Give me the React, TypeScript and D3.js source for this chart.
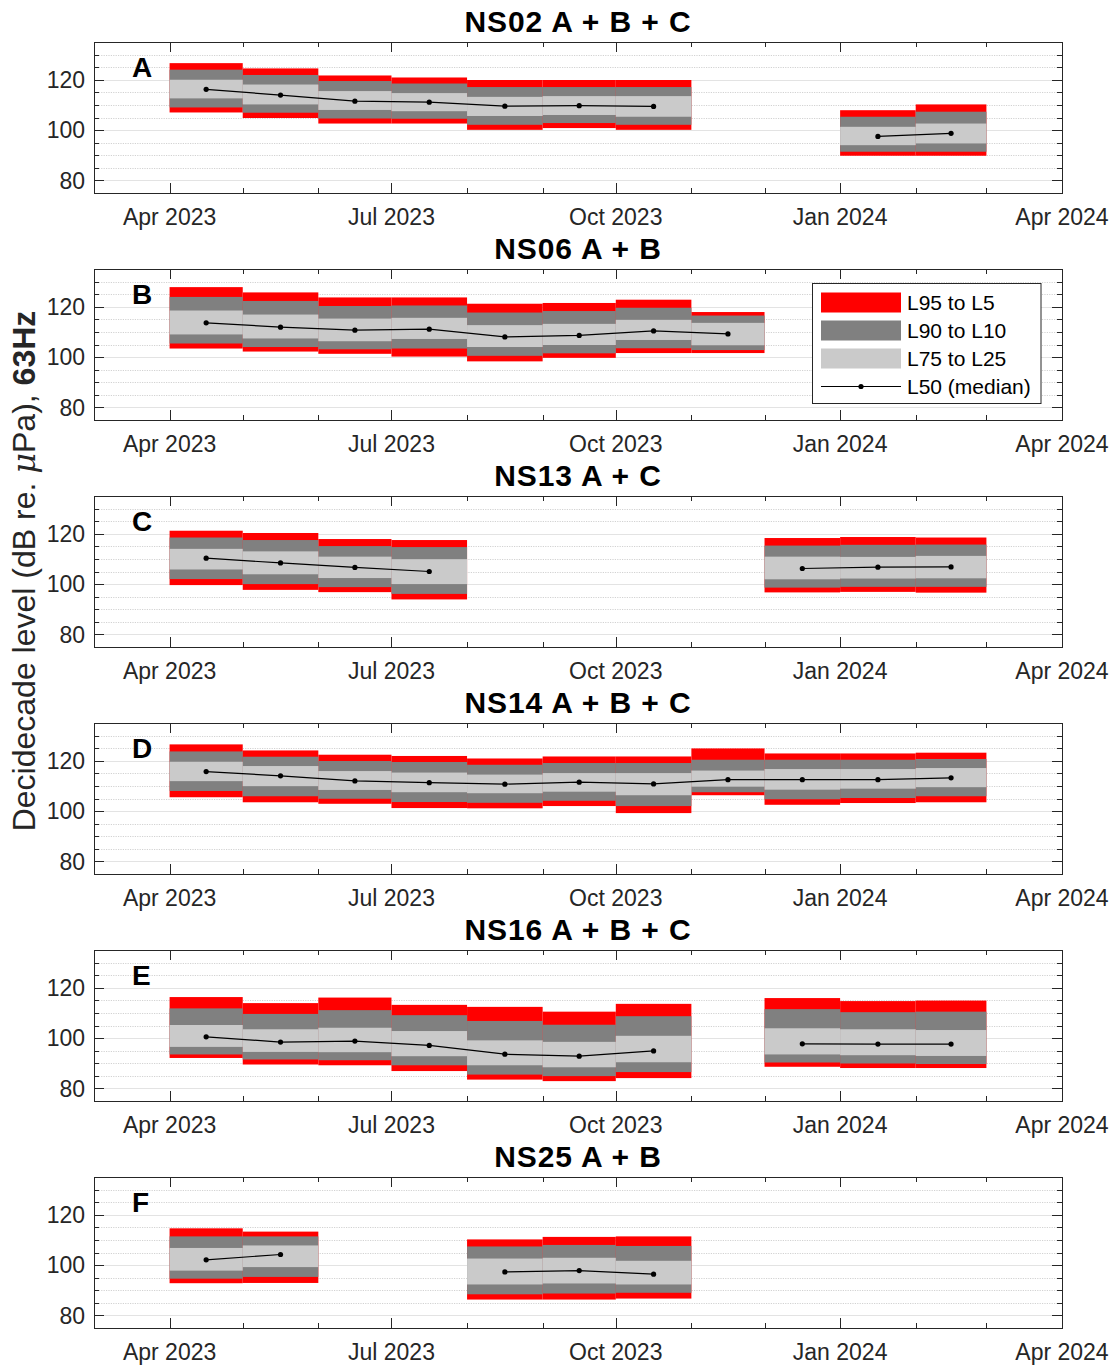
import React from "react";
import * as d3 from "d3";

// ---------- data ----------
const panelTitles = ["NS02 A + B + C", "NS06 A + B", "NS13 A + C", "NS14 A + B + C", "NS16 A + B + C", "NS25 A + B"];
const panelLetters = ["A", "B", "C", "D", "E", "F"];

const ns02Months = ["2023-04", "2023-05", "2023-06", "2023-07", "2023-08", "2023-09", "2023-10", "2024-01", "2024-02"];
const ns02L5 = [126.6, 124.5, 121.7, 120.9, 119.9, 119.9, 119.9, 107.9, 110.2];
const ns02L10 = [124.0, 121.9, 119.5, 118.5, 117.1, 117.1, 117.1, 105.3, 107.3];
const ns02L25 = [120.0, 118.1, 115.5, 114.7, 113.2, 113.5, 113.5, 101.3, 102.6];
const ns02L50 = [116.2, 113.9, 111.5, 111.1, 109.5, 109.7, 109.4, 97.5, 98.7];
const ns02L75 = [112.6, 110.2, 108.0, 107.5, 105.6, 106.0, 105.3, 94.0, 94.7];
const ns02L90 = [109.0, 106.9, 104.6, 104.5, 102.1, 102.8, 102.1, 91.4, 91.4];
const ns02L95 = [107.0, 104.8, 102.6, 102.6, 100.1, 100.8, 100.1, 89.8, 89.8];

const ns06Months = ["2023-04", "2023-05", "2023-06", "2023-07", "2023-08", "2023-09", "2023-10", "2023-11"];
const ns06L5 = [127.8, 125.7, 123.7, 123.7, 121.2, 121.5, 122.8, 117.9];
const ns06L10 = [123.9, 122.3, 120.3, 120.5, 117.7, 118.3, 119.6, 116.5];
const ns06L25 = [118.5, 116.9, 115.3, 115.6, 112.7, 113.2, 114.8, 113.6];
const ns06L50 = [113.6, 111.9, 110.7, 111.1, 108.0, 108.6, 110.4, 109.2];
const ns06L75 = [109.0, 107.4, 106.3, 107.2, 104.0, 104.8, 106.8, 104.7];
const ns06L90 = [105.4, 104.0, 103.1, 103.4, 100.5, 101.5, 103.5, 102.8];
const ns06L95 = [103.4, 102.2, 101.3, 100.2, 98.3, 99.7, 101.6, 101.6];

const ns13Months = ["2023-04", "2023-05", "2023-06", "2023-07", "2023-12", "2024-01", "2024-02"];
const ns13L5 = [121.2, 120.3, 117.9, 117.5, 118.3, 118.7, 118.5];
const ns13L10 = [118.5, 117.5, 115.1, 114.7, 115.3, 115.6, 115.7];
const ns13L25 = [114.0, 113.0, 110.9, 109.9, 110.9, 110.8, 111.2];
const ns13L50 = [110.3, 108.4, 106.6, 105.0, 106.2, 106.7, 106.8];
const ns13L75 = [105.8, 103.9, 102.4, 100.0, 101.9, 102.2, 102.3];
const ns13L90 = [102.0, 100.0, 98.8, 96.1, 98.6, 98.9, 98.9];
const ns13L95 = [99.6, 97.7, 96.8, 93.9, 96.7, 96.9, 96.6];

const ns14Months = ["2023-04", "2023-05", "2023-06", "2023-07", "2023-08", "2023-09", "2023-10", "2023-11", "2023-12", "2024-01", "2024-02"];
const ns14L5 = [126.5, 124.1, 122.4, 121.9, 120.9, 121.7, 121.7, 124.9, 122.9, 122.9, 123.2];
const ns14L10 = [123.7, 121.6, 119.9, 119.5, 118.4, 119.1, 119.1, 120.4, 120.4, 120.4, 120.7];
const ns14L25 = [119.6, 117.9, 115.9, 115.3, 114.5, 115.1, 115.1, 116.1, 116.7, 116.7, 117.1];
const ns14L50 = [115.7, 114.0, 112.0, 111.3, 110.7, 111.5, 110.8, 112.5, 112.5, 112.5, 113.2];
const ns14L75 = [111.9, 109.9, 108.4, 107.5, 107.1, 107.7, 106.3, 109.7, 108.5, 108.9, 109.5];
const ns14L90 = [108.0, 105.9, 104.9, 103.6, 103.3, 104.1, 102.0, 107.5, 104.7, 105.2, 105.9];
const ns14L95 = [105.5, 103.5, 102.9, 101.2, 101.1, 102.0, 99.2, 106.3, 102.5, 103.2, 103.5];

const ns16Months = ["2023-04", "2023-05", "2023-06", "2023-07", "2023-08", "2023-09", "2023-10", "2023-12", "2024-01", "2024-02"];
const ns16L5 = [116.3, 113.9, 116.1, 113.2, 112.4, 110.5, 113.6, 115.9, 114.7, 114.9];
const ns16L10 = [111.8, 109.6, 111.1, 109.1, 106.8, 105.3, 108.7, 111.5, 110.3, 110.5];
const ns16L25 = [105.2, 103.5, 104.1, 102.8, 99.1, 98.5, 100.9, 103.9, 103.5, 103.2];
const ns16L50 = [100.5, 98.4, 98.8, 97.1, 93.6, 92.8, 94.9, 97.7, 97.6, 97.6];
const ns16L75 = [96.5, 94.5, 94.4, 92.8, 89.2, 88.4, 90.4, 93.5, 93.2, 92.9];
const ns16L90 = [93.5, 91.5, 91.2, 89.2, 85.5, 84.9, 86.5, 90.3, 89.9, 89.7];
const ns16L95 = [92.1, 89.5, 89.2, 86.9, 83.5, 82.9, 84.1, 88.6, 88.1, 88.1];

const ns25Months = ["2023-04", "2023-05", "2023-08", "2023-09", "2023-10"];
const ns25L5 = [114.6, 113.3, 110.2, 111.2, 111.4];
const ns25L10 = [111.4, 111.4, 107.4, 108.0, 107.6];
const ns25L25 = [106.8, 107.8, 102.6, 102.9, 101.7];
const ns25L50 = [102.1, 104.2, 97.3, 97.8, 96.4];
const ns25L75 = [97.8, 99.2, 92.3, 92.7, 92.3];
const ns25L90 = [94.6, 95.3, 88.4, 88.7, 89.0];
const ns25L95 = [92.8, 92.9, 86.3, 86.3, 86.7];

const yTicksMajor = [80, 100, 120];
const legendLabels = ["L95 to L5", "L90 to L10", "L75 to L25", "L50 (median)"];
const yLabelParts = ["Decidecade level (dB re. ", "\u03bc", "Pa), ", "63Hz"];

const panels = [
  { months: ns02Months, L5: ns02L5, L10: ns02L10, L25: ns02L25, L50: ns02L50, L75: ns02L75, L90: ns02L90, L95: ns02L95 },
  { months: ns06Months, L5: ns06L5, L10: ns06L10, L25: ns06L25, L50: ns06L50, L75: ns06L75, L90: ns06L90, L95: ns06L95 },
  { months: ns13Months, L5: ns13L5, L10: ns13L10, L25: ns13L25, L50: ns13L50, L75: ns13L75, L90: ns13L90, L95: ns13L95 },
  { months: ns14Months, L5: ns14L5, L10: ns14L10, L25: ns14L25, L50: ns14L50, L75: ns14L75, L90: ns14L90, L95: ns14L95 },
  { months: ns16Months, L5: ns16L5, L10: ns16L10, L25: ns16L25, L50: ns16L50, L75: ns16L75, L90: ns16L90, L95: ns16L95 },
  { months: ns25Months, L5: ns25L5, L10: ns25L10, L25: ns25L25, L50: ns25L50, L75: ns25L75, L90: ns25L90, L95: ns25L95 },
];

// ---------- layout ----------
const W = 1112;
const H = 1365;
const LEFT = 94;
const RIGHT = 1062;
const TOP0 = 42;
const PANEL_H = 151;
const STEP = 227;
const FONT = "'Liberation Sans', Arial, Helvetica, sans-serif";
const AX = "#262626";
const RED = "#ff0000";
const DARK = "#808080";
const LIGHT = "#cacaca";

const parseMonth = d3.utcParse("%Y-%m");
const fmt = d3.utcFormat("%b %Y");

function Panel({ idx }: { idx: number }) {
  const p = panels[idx];
  const top = TOP0 + idx * STEP;
  const bottom = top + PANEL_H;
  const x = d3
    .scaleUtc()
    .domain([new Date(Date.UTC(2023, 2, 1)), new Date(Date.UTC(2024, 3, 1))])
    .range([LEFT, RIGHT]);
  const y = d3.scaleLinear().domain([75, 135]).range([bottom, top]);

  const monthTicks = d3.utcMonth.range(new Date(Date.UTC(2023, 3, 1)), new Date(Date.UTC(2024, 3, 2)));
  const gridVals = d3.range(80, 135, 5);

  const bars = p.months.map((m, i) => {
    const s = parseMonth(m) as Date;
    const e = d3.utcMonth.offset(s, 1);
    const mid = new Date((s.getTime() + e.getTime()) / 2);
    return { s, e, mid, i };
  });

  // split into contiguous segments for median line
  const segments: { mid: Date; v: number }[][] = [];
  bars.forEach((b, k) => {
    const pt = { mid: b.mid, v: p.L50[b.i] };
    if (k > 0 && d3.utcMonth.count(bars[k - 1].s, b.s) === 1) {
      segments[segments.length - 1].push(pt);
    } else {
      segments.push([pt]);
    }
  });
  const line = d3
    .line<{ mid: Date; v: number }>()
    .x((d) => x(d.mid))
    .y((d) => y(d.v));

  const band = (lo: number[], hi: number[], color: string) =>
    bars.map((b) => (
      <rect
        key={color + b.i}
        x={x(b.s)}
        width={x(b.e) - x(b.s)}
        y={y(hi[b.i])}
        height={y(lo[b.i]) - y(hi[b.i])}
        fill={color}
      />
    ));

  return (
    <g>
      {/* grid */}
      {gridVals.map((v) => {
        const major = yTicksMajor.includes(v);
        return (
          <line
            key={"g" + v}
            x1={LEFT}
            x2={RIGHT}
            y1={Math.round(y(v)) + 0.5}
            y2={Math.round(y(v)) + 0.5}
            stroke={major ? "#e3e3e3" : "#d2d2d2"}
            strokeWidth={1}
            strokeDasharray={major ? undefined : "1.2 1.2"}
          />
        );
      })}
      {/* bands */}
      {band(p.L95, p.L5, RED)}
      {band(p.L90, p.L10, DARK)}
      {band(p.L75, p.L25, LIGHT)}
      {/* median */}
      {segments.map((seg, k) => (
        <path key={"l" + k} d={line(seg) || ""} fill="none" stroke="#000" strokeWidth={1.2} />
      ))}
      {segments.flat().map((d, k) => (
        <circle key={"c" + k} cx={x(d.mid)} cy={y(d.v)} r={2.6} fill="#000" />
      ))}
      {/* y ticks */}
      {gridVals.map((v) => {
        const len = yTicksMajor.includes(v) ? 10 : 5;
        const yy = Math.round(y(v)) + 0.5;
        return (
          <g key={"yt" + v}>
            <line x1={LEFT} x2={LEFT + len} y1={yy} y2={yy} stroke={AX} strokeWidth={1} />
            <line x1={RIGHT} x2={RIGHT - len} y1={yy} y2={yy} stroke={AX} strokeWidth={1} />
          </g>
        );
      })}
      {yTicksMajor.map((v) => (
        <text
          key={"yl" + v}
          x={LEFT - 9}
          y={y(v)}
          dy="0.36em"
          textAnchor="end"
          fontSize={23}
          fontFamily={FONT}
          fill={AX}
        >
          {v}
        </text>
      ))}
      {/* x ticks */}
      {monthTicks.map((t) => {
        const major = t.getUTCMonth() % 3 === 0;
        const len = major ? 10 : 5;
        const xx = Math.round(x(t)) + 0.5;
        return (
          <g key={"xt" + t.getTime()}>
            <line x1={xx} x2={xx} y1={bottom} y2={bottom - len} stroke={AX} strokeWidth={1} />
            <line x1={xx} x2={xx} y1={top} y2={top + len} stroke={AX} strokeWidth={1} />
            {major && (
              <text x={x(t)} y={bottom + 32} textAnchor="middle" fontSize={23} fontFamily={FONT} fill={AX}>
                {fmt(t)}
              </text>
            )}
          </g>
        );
      })}
      {/* box */}
      <rect x={LEFT + 0.5} y={top + 0.5} width={RIGHT - LEFT} height={PANEL_H} fill="none" stroke={AX} strokeWidth={1} />
      {/* title */}
      <text
        x={(LEFT + RIGHT) / 2}
        y={top - 10}
        textAnchor="middle"
        fontSize={30}
        letterSpacing={0.9}
        fontWeight="bold"
        fontFamily={FONT}
        fill="#000"
      >
        {panelTitles[idx]}
      </text>
      {/* letter */}
      <text x={132} y={top + 35} fontSize={28} fontWeight="bold" fontFamily={FONT} fill="#000">
        {panelLetters[idx]}
      </text>
    </g>
  );
}

function Legend() {
  const lx = 812.5;
  const ly = 283.5;
  const w = 228.5;
  const h = 120;
  const colors = [RED, DARK, LIGHT];
  return (
    <g>
      <rect x={lx} y={ly} width={w} height={h} fill="#fff" stroke={AX} strokeWidth={1} />
      {legendLabels.map((lab, i) => {
        const cy = ly + 19 + i * 28;
        return (
          <g key={lab}>
            {i < 3 ? (
              <rect x={821} y={cy - 10} width={80} height={20} fill={colors[i]} />
            ) : (
              <g>
                <line x1={821} x2={901} y1={cy} y2={cy} stroke="#000" strokeWidth={1.2} />
                <circle cx={861} cy={cy} r={2.6} fill="#000" />
              </g>
            )}
            <text x={907} y={cy} dy="0.36em" fontSize={21} fontFamily={FONT} fill="#000">
              {lab}
            </text>
          </g>
        );
      })}
    </g>
  );
}

export default function App() {
  return (
    <svg
      width={W}
      height={H}
      viewBox={`0 0 ${W} ${H}`}
      style={{ position: "absolute", left: 0, top: 0, background: "#fff" }}
    >
      <rect x={0} y={0} width={W} height={H} fill="#fff" />
      {panels.map((_, i) => (
        <Panel key={i} idx={i} />
      ))}
      <Legend />
      <text
        transform={`translate(35, 571) rotate(-90)`}
        textAnchor="middle"
        fontSize={32}
        fontFamily={FONT}
        fill={AX}
      >
        <tspan>{yLabelParts[0]}</tspan>
        <tspan fontStyle="italic" fontFamily="'DejaVu Serif', 'Liberation Serif', serif">{yLabelParts[1]}</tspan>
        <tspan>{yLabelParts[2]}</tspan>
        <tspan fontWeight="bold">{yLabelParts[3]}</tspan>
      </text>
    </svg>
  );
}
